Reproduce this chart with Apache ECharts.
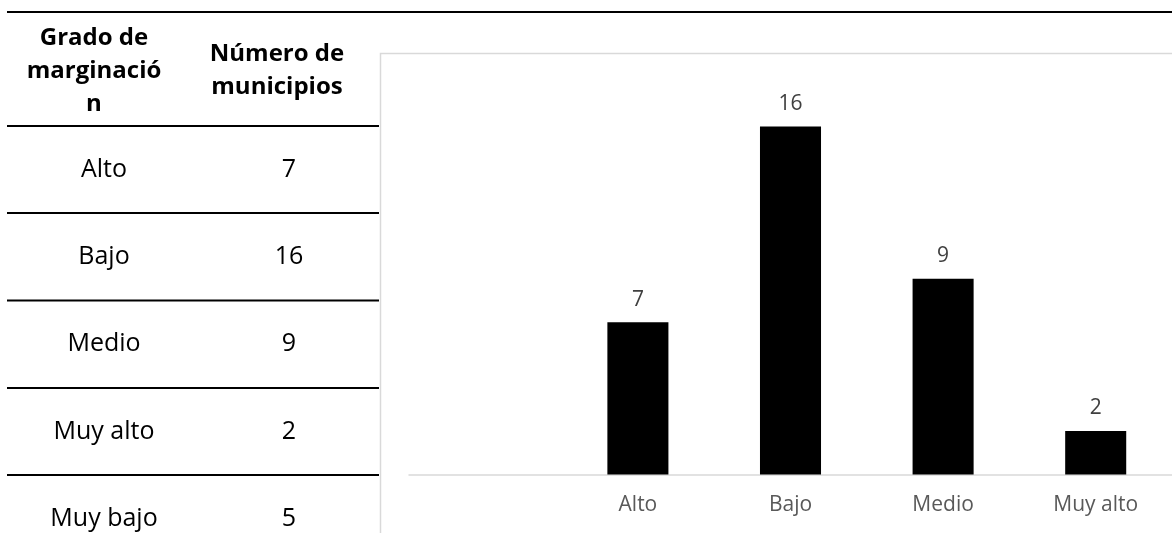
<!DOCTYPE html>
<html>
<head>
<meta charset="utf-8">
<script src="https://cdn.jsdelivr.net/npm/echarts@6/dist/echarts.min.js"></script>
<style>
html,body{margin:0;padding:0;background:#fff;}
#main{width:1172px;height:533px;}
</style>
</head>
<body>
<div id="main"></div>
<script>
// Chart data
const categories = ['', 'Alto', 'Bajo', 'Medio', 'Muy alto'];
const values = [null, 7, 16, 9, 2];

// Table data
const tableHeaders = ['Grado de\nmarginació\nn', 'Número de\nmunicipios'];
const tableCategories = ['Alto', 'Bajo', 'Medio', 'Muy alto', 'Muy bajo'];
const tableValues = [7, 16, 9, 2, 5];

const FONT = '"Open Sans", "Noto Sans", sans-serif';
const chart = echarts.init(document.getElementById('main'), null, {renderer: 'canvas'});

const graphics = [];
// chart frame (light grey)
graphics.push({type: 'rect', shape: {x: 380.5, y: 53.5, width: 900, height: 600},
  style: {fill: 'none', stroke: '#d9d9d9', lineWidth: 1.5}, z: 0});
// table top rule
graphics.push({type: 'line', shape: {x1: 7, y1: 12, x2: 1172, y2: 12},
  style: {stroke: '#000', lineWidth: 2}, z: 10});
// header bottom rule and row rules
const ruleYs = [126, 213, 300.5, 388, 475];
ruleYs.forEach(y => graphics.push({type: 'line', shape: {x1: 7, y1: y, x2: 379, y2: y},
  style: {stroke: '#000', lineWidth: 2}, z: 10}));
// headers
const headerX = [94, 277];
tableHeaders.forEach((h, i) => graphics.push({type: 'text', x: headerX[i], y: 71,
  style: {text: h, font: 'bold 24px ' + FONT, fill: '#000', align: 'center', verticalAlign: 'middle', lineHeight: 33}, z: 10}));
// rows
const rowYs = [169.5, 257, 344, 431.5, 518.5];
tableCategories.forEach((c, i) => {
  graphics.push({type: 'text', x: 104, y: rowYs[i],
    style: {text: c, font: '25px ' + FONT, fill: '#000', align: 'center', verticalAlign: 'middle'}, z: 10});
  graphics.push({type: 'text', x: 289, y: rowYs[i],
    style: {text: String(tableValues[i]), font: '25px ' + FONT, fill: '#000', align: 'center', verticalAlign: 'middle'}, z: 10});
});

chart.setOption({
  animation: false,
  backgroundColor: '#fff',
  graphic: graphics,
  grid: {left: 409, top: 83, width: 767.5, height: 391.5, containLabel: false},
  xAxis: {
    type: 'category', data: categories,
    axisLine: {lineStyle: {color: '#d9d9d9', width: 1.5}},
    axisTick: {show: false},
    axisLabel: {color: '#595959', fontSize: 21, fontFamily: FONT, margin: 20, interval: 0}
  },
  yAxis: {type: 'value', min: 0, max: 18, show: false, splitLine: {show: false}},
  series: [{
    type: 'bar', data: values, barWidth: '40%',
    itemStyle: {color: '#000'},
    label: {show: true, position: 'top', distance: 12, color: '#404040', fontSize: 21, fontFamily: FONT}
  }]
});
</script>
</body>
</html>
